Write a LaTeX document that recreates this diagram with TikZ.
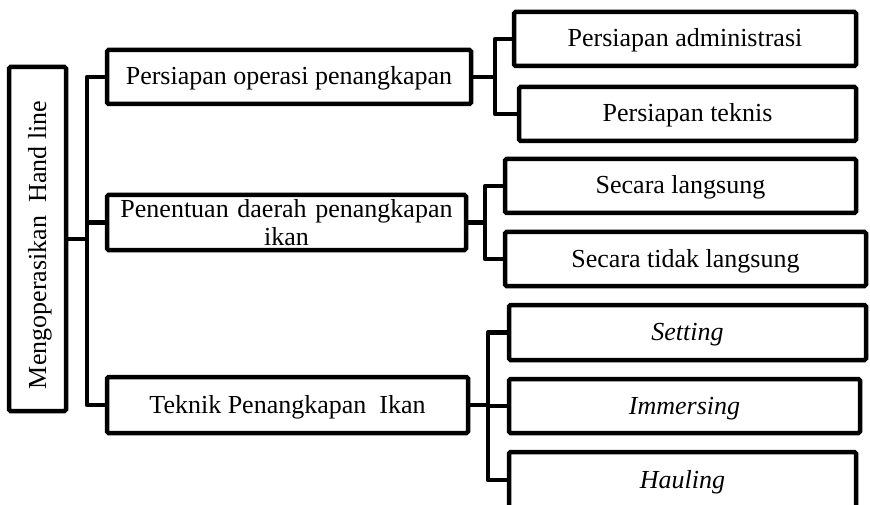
\documentclass[tikz,border=0pt]{standalone}
\usepackage{fontspec}
\setmainfont{Liberation Serif}
\begin{document}
\begin{tikzpicture}[x=1pt,y=-1pt,
  box/.style={draw, line width=4.5pt, rounded corners=1.5pt, inner sep=0pt, outer sep=0pt,
    font=\fontsize{26}{28}\selectfont, align=center},
  one/.style={box, text height=20pt, text depth=4pt},
  conn/.style={line width=4.5pt, line join=round}]
\useasboundingbox (0,0) rectangle (870,505);
% root
\node[box, minimum width=57pt, minimum height=344pt] (root) at (37.5,239) {};
\node[rotate=90, font=\fontsize{26}{28}\selectfont, inner sep=0pt, text height=20pt, text depth=4pt] (rootlabel) at (38,245) {Mengoperasikan\ \ Hand\ line};
% level 1
\node[one, minimum width=364pt, minimum height=54pt] (b1) at (289,77) {Persiapan operasi penangkapan};
\node[box, minimum width=359pt, minimum height=55pt, text width=345pt] (b2) at (286.5,222.5) {Penentuan daerah penangkapan\\ikan};
\node[one, minimum width=361pt, minimum height=56pt] (b3) at (287.5,405) {Teknik Penangkapan\ \ Ikan};
% level 2
\node[one, minimum width=342pt, minimum height=54pt] (s1) at (685,39) {Persiapan administrasi};
\node[one, minimum width=337pt, minimum height=54pt] (s2) at (687.5,114) {Persiapan teknis};
\node[one, minimum width=351pt, minimum height=54pt] (s3) at (680.5,186) {Secara langsung};
\node[one, minimum width=361pt, minimum height=54pt] (s4) at (685.5,259) {Secara tidak langsung};
\node[one, minimum width=357pt, minimum height=55pt] (s5) at (687.5,332.5) {\itshape Setting};
\node[one, minimum width=351pt, minimum height=54pt] (s6) at (684.5,406) {\itshape Immersing};
\node[one, minimum width=347pt, minimum height=56pt] (s7) at (682.5,480) {\itshape Hauling};
% trunk
\coordinate (tr) at (87,0);
\draw[conn] (root.east) -- (root.east -| tr);
\draw[conn] (b1.west) -- (b1.west -| tr) -- (b3.west -| tr) -- (b3.west);
\draw[conn] (b2.west) -- (b2.west -| tr);
% branch 1
\coordinate (br1) at (495,0);
\draw[conn] (b1.east) -- (b1.east -| br1);
\draw[conn] (s1.west) -- (s1.west -| br1) -- (s2.west -| br1) -- (s2.west);
% branch 2
\coordinate (br2) at (485,0);
\draw[conn] (b2.east) -- (b2.east -| br2);
\draw[conn] (s3.west) -- (s3.west -| br2) -- (s4.west -| br2) -- (s4.west);
% branch 3
\coordinate (br3) at (488,0);
\draw[conn] (b3.east) -- (b3.east -| br3);
\draw[conn] (s5.west) -- (s5.west -| br3) -- (s7.west -| br3) -- (s7.west);
\draw[conn] (s6.west) -- (s6.west -| br3);
\end{tikzpicture}
\end{document}
